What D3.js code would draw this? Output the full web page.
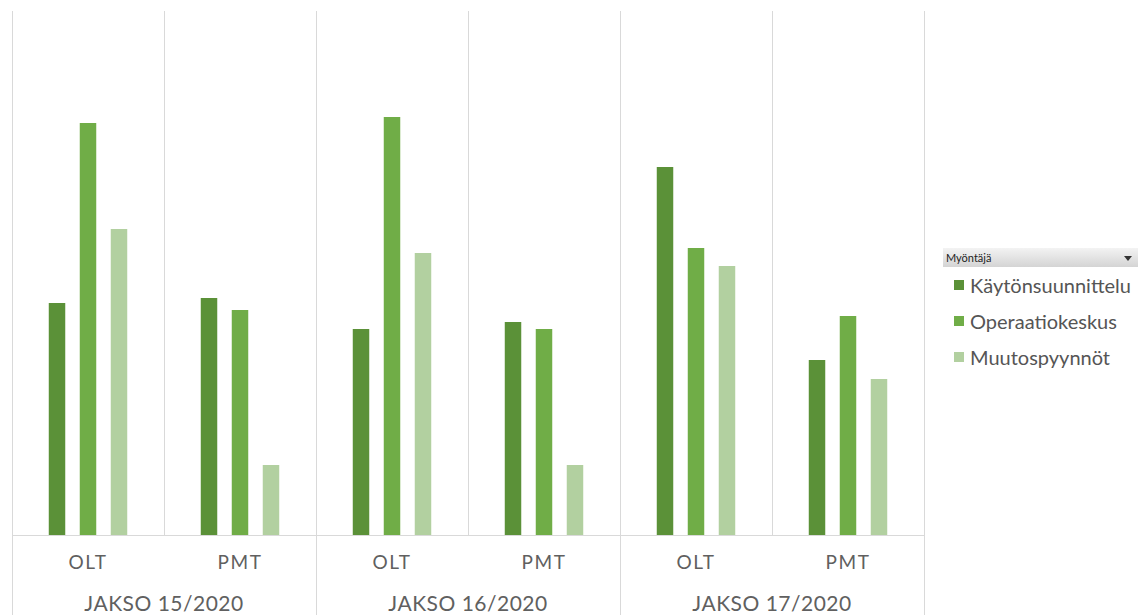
<!DOCTYPE html>
<html>
<head>
<meta charset="utf-8">
<script src="https://cdn.jsdelivr.net/npm/d3@7"></script>
<style>
  html, body { margin: 0; padding: 0; background: #ffffff; }
  svg { display: block; }
  text { font-family: Lato, "Open Sans", sans-serif; }
</style>
</head>
<body>
<script>
// Periods (outer axis level), sites (inner axis level) and the three requesters
const periods = ["JAKSO 15/2020", "JAKSO 16/2020", "JAKSO 17/2020"];
const sites = ["OLT", "PMT"];
const seriesNames = ["Käytönsuunnittelu", "Operaatiokeskus", "Muutospyynnöt"];

// Values per period/site in order: 15 OLT, 15 PMT, 16 OLT, 16 PMT, 17 OLT, 17 PMT
const kaytonsuunnittelu = [232, 237, 206, 213, 368, 175];
const operaatiokeskus   = [412, 225, 418, 206, 287, 219];
const muutospyynnot     = [306, 70, 282, 70, 269, 156];

const seriesValues = [kaytonsuunnittelu, operaatiokeskus, muutospyynnot];
const seriesColors = ["#5b9138", "#70ad47", "#b2d0a0"];

const W = 1141, H = 615;
const plotLeft = 12, plotRight = 924, plotTop = 11, plotBase = 535;
const gridColor = "#d9d9d9";
const textColor = "#606060";

const svg = d3.select("body").append("svg").attr("width", W).attr("height", H);

// Scales
const xPeriod = d3.scaleBand().domain(periods).range([plotLeft, plotRight]);
const xSite = d3.scaleBand().domain(sites).range([0, xPeriod.bandwidth()]);
const xSeries = d3.scaleBand().domain(seriesNames).range([0, xSite.bandwidth()])
  .paddingInner(0.468).paddingOuter(1.186);
const y = d3.scaleLinear().domain([0, 500]).range([plotBase, plotBase - 500]);

// Rows for drawing
const rows = [];
periods.forEach((p, pi) => sites.forEach((s, si) => {
  seriesNames.forEach((name, k) => {
    rows.push({ period: p, site: s, series: name, k, value: seriesValues[k][pi * sites.length + si] });
  });
}));

// Vertical grid: inner site separators stop at the baseline, period separators run to the bottom
const g = svg.append("g").attr("shape-rendering", "crispEdges");
periods.forEach(p => {
  sites.forEach((s, si) => {
    if (si > 0) {
      const xx = Math.round(xPeriod(p) + xSite(s)) + 0.5;
      g.append("line").attr("x1", xx).attr("x2", xx).attr("y1", plotTop).attr("y2", plotBase)
        .attr("stroke", gridColor);
    }
  });
});
const periodEdges = periods.map(p => xPeriod(p)).concat([plotRight]);
periodEdges.forEach(px => {
  const xx = Math.round(px) + 0.5;
  g.append("line").attr("x1", xx).attr("x2", xx).attr("y1", plotTop).attr("y2", H)
    .attr("stroke", gridColor);
});

// Bars
svg.append("g").selectAll("rect").data(rows).join("rect")
  .attr("x", d => xPeriod(d.period) + xSite(d.site) + xSeries(d.series))
  .attr("width", xSeries.bandwidth())
  .attr("y", d => y(d.value))
  .attr("height", d => y(0) - y(d.value))
  .attr("fill", d => seriesColors[d.k]);

// Baseline
g.append("line").attr("x1", plotLeft).attr("x2", plotRight)
  .attr("y1", plotBase + 0.5).attr("y2", plotBase + 0.5)
  .attr("stroke", gridColor);

// Site labels
periods.forEach(p => sites.forEach(s => {
  svg.append("text")
    .attr("x", xPeriod(p) + xSite(s) + xSite.bandwidth() / 2)
    .attr("y", 569)
    .attr("text-anchor", "middle")
    .attr("font-size", 19)
    .attr("letter-spacing", 1.5)
    .attr("fill", textColor)
    .text(s);
}));

// Period labels
periods.forEach(p => {
  svg.append("text")
    .attr("x", xPeriod(p) + xPeriod.bandwidth() / 2)
    .attr("y", 611)
    .attr("text-anchor", "middle")
    .attr("font-size", 21)
    .attr("letter-spacing", 0.5)
    .attr("fill", textColor)
    .text(p);
});

// Legend with a filter-style header
const defs = svg.append("defs");
const grad = defs.append("linearGradient").attr("id", "hdr")
  .attr("x1", 0).attr("x2", 0).attr("y1", 0).attr("y2", 1);
grad.append("stop").attr("offset", "0%").attr("stop-color", "#f3f3f3");
grad.append("stop").attr("offset", "100%").attr("stop-color", "#d4d4d4");

const lg = svg.append("g");
lg.append("rect").attr("x", 943).attr("y", 248).attr("width", 195).attr("height", 19)
  .attr("fill", "url(#hdr)");
lg.append("text").attr("x", 946).attr("y", 262).attr("font-size", 11)
  .attr("font-family", "'DejaVu Sans', sans-serif").attr("fill", "#222").text("Myöntäjä");
lg.append("path").attr("d", "M1124,256 L1132,256 L1128,261 Z").attr("fill", "#333");

seriesNames.forEach((name, k) => {
  const by = 293 + k * 36;
  lg.append("rect").attr("x", 954).attr("y", by - 13).attr("width", 10).attr("height", 10)
    .attr("fill", seriesColors[k]);
  lg.append("text").attr("x", 970).attr("y", by).attr("font-size", 20)
    .attr("fill", "#555555").text(name);
});
</script>
</body>
</html>
